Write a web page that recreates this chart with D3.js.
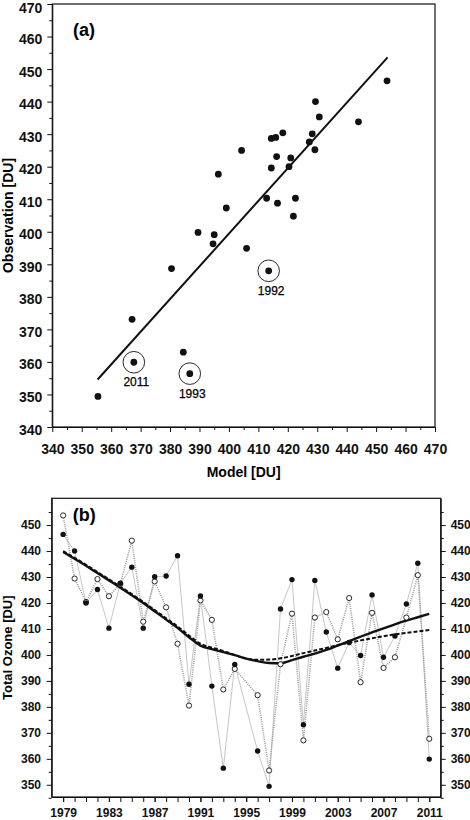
<!DOCTYPE html>
<html>
<head>
<meta charset="utf-8">
<script src="https://cdn.jsdelivr.net/npm/d3@7"></script>
<style>
  body { margin: 0; background: #fff; }
  svg { display: block; font-family: "Liberation Sans", Arial, sans-serif; }
  .axis text { font-weight: bold; fill: #111; }
  .axis path, .axis line { stroke: #111; }
</style>
</head>
<body>
<svg id="chart" width="470" height="820"></svg>
<script>
// years with data (1995 is missing in the record)
const years = [1979, 1980, 1981, 1982, 1983, 1984, 1985, 1986, 1987, 1988, 1989, 1990, 1991, 1992, 1993, 1994,
  1996, 1997, 1998, 1999, 2000, 2001, 2002, 2003, 2004, 2005, 2006, 2007, 2008, 2009, 2010, 2011]
// observed total ozone [DU]
const obs = [446.4, 440.0, 420.0, 425.2, 410.3, 427.6, 433.8, 410.3, 430.1, 430.4, 438.2, 388.7, 422.7, 388.0, 356.4, 396.3,
  363.0, 349.4, 417.7, 429.0, 373.1, 428.7, 408.8, 394.9, 404.8, 399.8, 423.1, 399.1, 407.3, 419.6, 435.3, 359.9]
// modelled total ozone [DU]
const model = [453.7, 429.4, 420.4, 429.2, 422.6, 427.3, 444.0, 412.8, 428.3, 418.3, 404.3, 380.5, 421.0, 413.5, 386.7, 394.6,
  384.5, 355.5, 396.4, 415.9, 367.1, 414.4, 416.5, 406.0, 421.9, 389.5, 416.2, 395.0, 399.1, 414.4, 430.7, 367.7]
// panel (a) plots 1989 at a lower observed value than panel (b)
const scatterObsOverride = { 1989: 425.0 }
// years circled in panel (a)
const highlighted = [1992, 1993, 2011]
// fitted line of panel (a): [model, obs] end points
const fitLine = [[355.4, 354.6], [453.9, 453.6]]

// smoothed trends of panel (b), one value per year 1979..2011
const trendYears = [1979, 1980, 1981, 1982, 1983, 1984, 1985, 1986, 1987, 1988, 1989, 1990, 1991, 1992, 1993, 1994, 1995,
  1996, 1997, 1998, 1999, 2000, 2001, 2002, 2003, 2004, 2005, 2006, 2007, 2008, 2009, 2010, 2011]
const obsTrend = [439.6, 437.0, 434.3, 431.5, 428.7, 425.9, 423.0, 420.0, 416.8, 413.6, 410.4, 406.8, 403.6, 402.2, 401.1, 399.9, 398.6,
  397.6, 396.9, 396.8, 398.0, 399.3, 400.5, 401.9, 403.6, 405.3, 407.0, 408.7, 410.2, 411.8, 413.2, 414.5, 415.8]
const modelTrend = [440.0, 437.4, 434.7, 431.9, 429.1, 426.3, 423.4, 420.4, 417.3, 414.1, 411.0, 407.5, 404.3, 402.8, 401.5, 400.0, 398.6,
  398.1, 398.2, 398.7, 399.6, 400.7, 401.7, 402.7, 403.8, 404.7, 405.6, 406.4, 407.2, 407.9, 408.5, 409.0, 409.6]

// tick values
const ticksA = [340, 350, 360, 370, 380, 390, 400, 410, 420, 430, 440, 450, 460, 470]
const minorA = [345, 355, 365, 375, 385, 395, 405, 415, 425, 435, 445, 455, 465]
const ticksBy = [350, 360, 370, 380, 390, 400, 410, 420, 430, 440, 450]
const minorBy = [345, 355, 365, 375, 385, 395, 405, 415, 425, 435, 445, 455]
const ticksBx = [1979, 1983, 1987, 1991, 1995, 1999, 2003, 2007, 2011]
const minorBx = trendYears

const svg = d3.select('#chart')

// ---------- panel (a) ----------
var xa = d3.scaleLinear().domain([340, 470]).range([52.3, 435])
var ya = d3.scaleLinear().domain([340, 470]).range([427, 4])
var ga = svg.append('g')

ga.append('g').attr('class', 'axis').attr('transform', 'translate(0,427)')
  .call(d3.axisBottom(xa).tickValues(minorA).tickSize(3).tickFormat(''))
  .call(g => g.select('.domain').remove())
ga.append('g').attr('class', 'axis').attr('transform', 'translate(0,427)')
  .call(d3.axisBottom(xa).tickValues(ticksA).tickSize(5).tickSizeOuter(0).tickPadding(11.6))
  .call(g => g.selectAll('text').style('font-size', '14px'))
ga.append('g').attr('class', 'axis').attr('transform', 'translate(52.3,0)')
  .call(d3.axisLeft(ya).tickValues(minorA).tickSize(3).tickFormat(''))
  .call(g => g.select('.domain').remove())
ga.append('g').attr('class', 'axis').attr('transform', 'translate(52.3,0)')
  .call(d3.axisLeft(ya).tickValues(ticksA).tickSize(5).tickSizeOuter(0).tickPadding(5))
  .call(g => g.selectAll('text').style('font-size', '14px').attr('dy', '0.5em'))
  // top label sits a little lower so it stays inside the page
  .call(g => g.selectAll('.tick').filter(d => d === 470).select('text').attr('dy', '0.62em'))

ga.append('rect')
  .attr('x', xa(340)).attr('y', ya(470))
  .attr('width', xa(470) - xa(340)).attr('height', ya(340) - ya(470))
  .attr('fill', 'none').attr('stroke', '#111').attr('stroke-width', 1.2)

ga.append('text').attr('x', xa(405)).attr('y', 476.5)
  .attr('text-anchor', 'middle').style('font-size', '14px').style('font-weight', 'bold')
  .text('Model [DU]')
ga.append('text').attr('transform', 'translate(12.5,' + ya(405) + ') rotate(-90)')
  .attr('text-anchor', 'middle').style('font-size', '14px').style('font-weight', 'bold')
  .text('Observation [DU]')
ga.append('text').attr('x', 73).attr('y', 36)
  .style('font-size', '18px').style('font-weight', 'bold').text('(a)')

ga.append('line')
  .attr('x1', xa(fitLine[0][0])).attr('y1', ya(fitLine[0][1]))
  .attr('x2', xa(fitLine[1][0])).attr('y2', ya(fitLine[1][1]))
  .attr('stroke', '#111').attr('stroke-width', 2)

var scatter = years.map((yr, i) => ({
  year: yr,
  model: model[i],
  obs: scatterObsOverride[yr] !== undefined ? scatterObsOverride[yr] : obs[i]
}))

ga.selectAll('circle.pt').data(scatter).enter().append('circle')
  .attr('class', 'pt')
  .attr('cx', d => xa(d.model)).attr('cy', d => ya(d.obs))
  .attr('r', 3.4).attr('fill', '#111')

var hl = scatter.filter(d => highlighted.indexOf(d.year) >= 0)
ga.selectAll('circle.hl').data(hl).enter().append('circle')
  .attr('class', 'hl')
  .attr('cx', d => xa(d.model)).attr('cy', d => ya(d.obs))
  .attr('r', 10.8).attr('fill', 'none').attr('stroke', '#111').attr('stroke-width', 0.9)
ga.selectAll('text.hl').data(hl).enter().append('text')
  .attr('class', 'hl')
  .attr('x', d => xa(d.model) + 2.5).attr('y', d => ya(d.obs) + 24)
  .attr('text-anchor', 'middle').style('font-size', '12px')
  .attr('fill', '#000').attr('stroke', '#000').attr('stroke-width', 0.25)
  .text(d => d.year)

// ---------- panel (b) ----------
var xb = d3.scaleLinear().domain([1978, 2012]).range([51.7, 440.7])
var yb = d3.scaleLinear().domain([345.3, 460.3]).range([797, 498.3])
var gb = svg.append('g')

gb.append('g').attr('class', 'axis').attr('transform', 'translate(0,797)')
  .call(d3.axisBottom(xb).tickValues(minorBx).tickSize(5).tickSizeOuter(0).tickFormat(''))
gb.append('g').attr('class', 'axis').attr('transform', 'translate(0,797)')
  .call(d3.axisBottom(xb).tickValues(ticksBx).tickSize(5).tickSizeOuter(0).tickPadding(6.5).tickFormat(d3.format('d')))
  .call(g => g.select('.domain').remove())
  .call(g => g.selectAll('text').style('font-size', '12px'))

;[['left', 51.7, d3.axisLeft], ['right', 440.7, d3.axisRight]].forEach(function (s) {
  gb.append('g').attr('class', 'axis').attr('transform', 'translate(' + s[1] + ',0)')
    .call(s[2](yb).tickValues(minorBy).tickSize(3).tickFormat(''))
    .call(g => g.select('.domain').remove())
  gb.append('g').attr('class', 'axis').attr('transform', 'translate(' + s[1] + ',0)')
    .call(s[2](yb).tickValues(ticksBy).tickSize(5).tickSizeOuter(0).tickPadding(s[0] === 'left' ? 5.7 : 5))
    .call(g => g.selectAll('text').style('font-size', '12px'))
})

gb.append('rect')
  .attr('x', xb(1978)).attr('y', yb(460.3))
  .attr('width', xb(2012) - xb(1978)).attr('height', yb(345.3) - yb(460.3))
  .attr('fill', 'none').attr('stroke', '#111').attr('stroke-width', 1.2)

gb.append('text').attr('transform', 'translate(11.5,' + (yb(345.3) + yb(460.3)) / 2 + ') rotate(-90)')
  .attr('text-anchor', 'middle').style('font-size', '13px').style('font-weight', 'bold')
  .text('Total Ozone [DU]')
gb.append('text').attr('x', 72.7).attr('y', 521)
  .style('font-size', '18px').style('font-weight', 'bold').text('(b)')

var seriesLine = d3.line().x(d => xb(d[0])).y(d => yb(d[1]))

gb.append('path')
  .datum(years.map((yr, i) => [yr, obs[i]]))
  .attr('d', seriesLine).attr('fill', 'none')
  .attr('stroke', '#b8b8b8').attr('stroke-width', 0.8)
gb.append('path')
  .datum(years.map((yr, i) => [yr, model[i]]))
  .attr('d', seriesLine).attr('fill', 'none')
  .attr('stroke', '#9a9a9a').attr('stroke-width', 1.6).attr('stroke-dasharray', '1,1.2')

var trendLine = d3.line().curve(d3.curveMonotoneX).x(d => xb(d[0])).y(d => yb(d[1]))
gb.append('path')
  .datum(trendYears.map((yr, i) => [yr, modelTrend[i]]))
  .attr('d', trendLine).attr('fill', 'none')
  .attr('stroke', '#111').attr('stroke-width', 2).attr('stroke-dasharray', '4,2')
gb.append('path')
  .datum(trendYears.map((yr, i) => [yr, obsTrend[i]]))
  .attr('d', trendLine).attr('fill', 'none')
  .attr('stroke', '#111').attr('stroke-width', 2.4)

gb.selectAll('circle.mod').data(years).enter().append('circle')
  .attr('class', 'mod')
  .attr('cx', d => xb(d)).attr('cy', (d, i) => yb(model[i]))
  .attr('r', 2.6).attr('fill', '#fff').attr('stroke', '#111').attr('stroke-width', 0.9)
gb.selectAll('circle.obs').data(years).enter().append('circle')
  .attr('class', 'obs')
  .attr('cx', d => xb(d)).attr('cy', (d, i) => yb(obs[i]))
  .attr('r', 2.7).attr('fill', '#111')
</script>
</body>
</html>
